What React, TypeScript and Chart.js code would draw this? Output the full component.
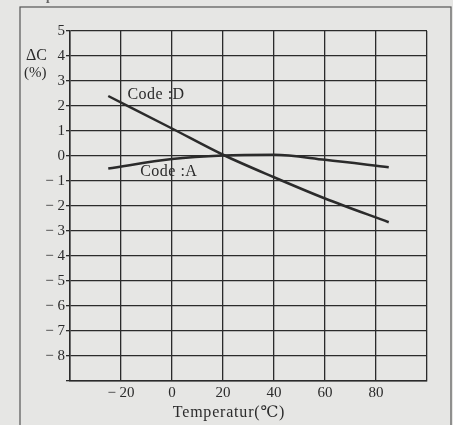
import React, { useEffect, useRef } from "react";
import { Chart, registerables } from "chart.js";

Chart.register(...registerables);

const temps = [-25, 0, 20, 40, 60, 85];
const codeD = [2.4, 1.1, 0.05, -0.85, -1.7, -2.65];
const codeA = [-0.5, -0.12, 0.02, 0.05, -0.15, -0.45];
const xTickLabels = [-20, 0, 20, 40, 60, 80];
const yTickLabels = [5, 4, 3, 2, 1, 0, -1, -2, -3, -4, -5, -6, -7, -8];
const labelD = "Code :D";
const labelA = "Code :A";
const xTitle = "Temperatur(℃)";
const topTitle = "Temperature Characteristics";

const FONT = "'Liberation Serif', 'DejaVu Serif', serif";
const INK = "#2b2b2b";
const BG = "#e6e6e4";

const fmt = (v: number) => (v < 0 ? "\u2212 " + Math.abs(v) : String(v));

const decor = {
  id: "decor",
  beforeDraw(chart: any) {
    const { ctx, width, height } = chart;
    ctx.save();
    ctx.fillStyle = BG;
    ctx.fillRect(0, 0, width, height);
    ctx.restore();
  },
  afterDraw(chart: any) {
    const { ctx } = chart;
    const xs = chart.scales.x;
    const ys = chart.scales.y;
    ctx.save();
    // outer frame
    ctx.strokeStyle = "#555";
    ctx.lineWidth = 1.2;
    ctx.strokeRect(20, 7, 431, 430);
    // cut title at top
    ctx.fillStyle = "#666";
    ctx.font = `bold 13px ${FONT}`;
    ctx.textBaseline = "alphabetic";
    ctx.textAlign = "left";
    ctx.fillText(topTitle, 22, 0);
    // series labels
    ctx.fillStyle = INK;
    ctx.font = `16px ${FONT}`;
    ctx.textBaseline = "middle";
    ctx.letterSpacing = "0.5px";
    ctx.fillText(labelD, xs.getPixelForValue(-17.5), ys.getPixelForValue(2.45));
    ctx.fillText(labelA, xs.getPixelForValue(-12.5), ys.getPixelForValue(-0.62));
    ctx.letterSpacing = "0px";
    // y label
    ctx.font = `16px ${FONT}`;
    ctx.textAlign = "left";
    ctx.fillText("ΔC", 26, ys.getPixelForValue(4));
    ctx.font = `15px ${FONT}`;
    ctx.fillText("(%)", 24, ys.getPixelForValue(3.3));
    // x title
    ctx.textAlign = "center";
    ctx.font = `16px ${FONT}`;
    ctx.letterSpacing = "0.8px";
    ctx.fillText(xTitle, 229, 413);
    ctx.restore();
  },
};

export default function App() {
  const ref = useRef<HTMLCanvasElement | null>(null);
  useEffect(() => {
    if (!ref.current) return;
    const chart = new Chart(ref.current, {
      type: "line",
      data: {
        datasets: [
          {
            label: labelD,
            data: temps.map((t, i) => ({ x: t, y: codeD[i] })),
            borderColor: INK,
            borderWidth: 2.5,
            pointRadius: 0,
            tension: 0.3,
            cubicInterpolationMode: "monotone",
          },
          {
            label: labelA,
            data: temps.map((t, i) => ({ x: t, y: codeA[i] })),
            borderColor: INK,
            borderWidth: 2.5,
            pointRadius: 0,
            tension: 0.3,
            cubicInterpolationMode: "monotone",
          },
        ],
      },
      options: {
        animation: false,
        responsive: false,
        maintainAspectRatio: false,
        layout: { padding: { left: 0, right: 26, top: 31, bottom: 0 } },
        plugins: { legend: { display: false }, tooltip: { enabled: false } },
        scales: {
          x: {
            type: "linear",
            min: -40,
            max: 100,
            afterBuildTicks: (s: any) => {
              s.ticks = [-40, -20, 0, 20, 40, 60, 80, 100].map((v) => ({ value: v }));
            },
            afterFit: (s: any) => {
              s.height = 44;
            },
            grid: { color: INK, lineWidth: 1.3, drawTicks: false },
            border: { color: INK, width: 1.5 },
            ticks: {
              padding: 3,
              maxRotation: 0,
              autoSkip: false,
              color: INK,
              font: { family: FONT, size: 15 },
              callback: (v: any) => (xTickLabels.includes(Number(v)) ? fmt(Number(v)) : ""),
            },
          },
          y: {
            type: "linear",
            min: -9,
            max: 5,
            afterBuildTicks: (s: any) => {
              const t = [];
              for (let v = -9; v <= 5; v++) t.push({ value: v });
              s.ticks = t;
            },
            afterFit: (s: any) => {
              s.width = 70;
            },
            grid: { color: INK, lineWidth: 1.3, tickLength: 4 },
            border: { color: INK, width: 1.5 },
            ticks: {
              padding: 1,
              autoSkip: false,
              color: INK,
              font: { family: FONT, size: 15 },
              callback: (v: any) => (yTickLabels.includes(Number(v)) ? fmt(Number(v)) : ""),
            },
          },
        },
      },
      plugins: [decor],
    });
    return () => chart.destroy();
  }, []);
  return (
    <div style={{ position: "fixed", left: 0, top: 0, width: 453, height: 425 }}>
      <canvas ref={ref} width={453} height={425} style={{ width: 453, height: 425, display: "block" }} />
    </div>
  );
}
